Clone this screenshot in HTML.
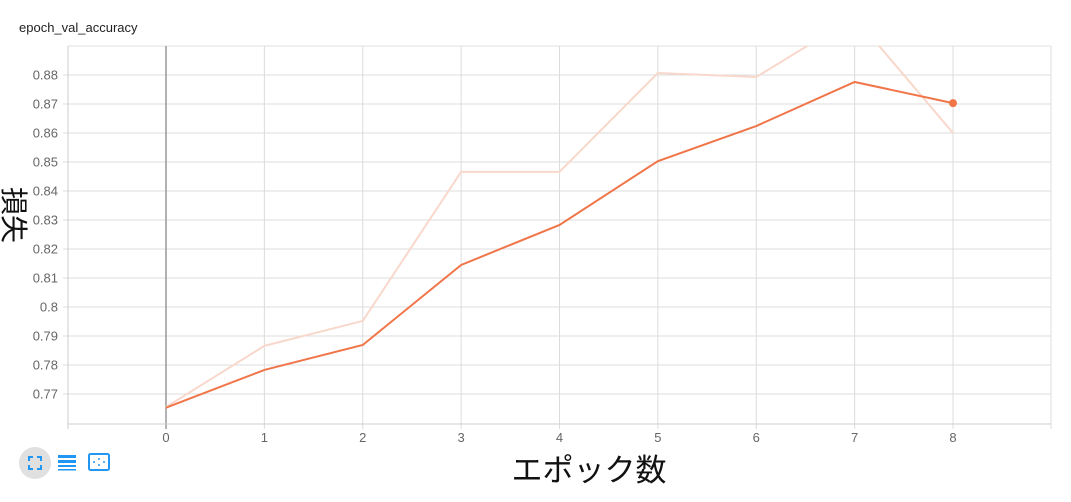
<!DOCTYPE html>
<html><head><meta charset="utf-8"><style>
body{margin:0;background:#fff;width:1071px;height:497px;overflow:hidden;font-family:"Liberation Sans","Noto Sans CJK JP",sans-serif}
</style></head><body>
<svg id="chart" width="1071" height="497" xmlns="http://www.w3.org/2000/svg" font-family="Liberation Sans, Noto Sans CJK JP, sans-serif">
<text x="19" y="32" font-size="13" fill="#222">epoch_val_accuracy</text>
<g id="grid"></g><g id="axes"></g>
<defs><clipPath id="clip"><rect x="68" y="46" width="983" height="378"/></clipPath></defs>
<g id="series" clip-path="url(#clip)"></g>
<text transform="translate(4,215) rotate(90)" font-size="28" text-anchor="middle" fill="#111">損失</text>
<text x="589" y="481" font-size="31" text-anchor="middle" fill="#111">エポック数</text>
<g><circle cx="35" cy="463" r="16" fill="#e0e0e0"/><path d="M29 461v-4h4M37 457h4v4M41 465v4h-4M33 469h-4v-4" stroke="#2196f3" stroke-width="2" fill="none"/></g>
<g fill="#2196f3"><rect x="58" y="455" width="18" height="3"/><rect x="58" y="460" width="18" height="3"/><rect x="58" y="465" width="18" height="2"/><rect x="58" y="469" width="18" height="1.5"/></g>
<g><rect x="89" y="454" width="20" height="16" rx="1.5" fill="none" stroke="#2196f3" stroke-width="2"/><path d="M99 458v2M99 464v2M93 462h2M103 462h2" stroke="#2196f3" stroke-width="1.5"/></g>
</svg>
<script>
const epochs=[0,1,2,3,4,5,6,7,8];
const smoothed=[0.7653,0.7783,0.7869,0.8145,0.8283,0.8503,0.8624,0.8776,0.8703];
const raw=[0.7655,0.7866,0.7952,0.8466,0.8466,0.8807,0.8793,0.9000,0.8600];
const yTicks=[0.77,0.78,0.79,0.8,0.81,0.82,0.83,0.84,0.85,0.86,0.87,0.88];
const xTicks=[0,1,2,3,4,5,6,7,8];
const NS="http://www.w3.org/2000/svg";
const X=v=>166+(v)*98.375, Y=v=>394-(v-0.77)*2900;
function mk(t,a,p){const e=document.createElementNS(NS,t);for(const k in a)e.setAttribute(k,a[k]);p.appendChild(e);return e;}
const g=document.getElementById('grid'),ax=document.getElementById('axes'),s=document.getElementById('series');
mk('line',{x1:68,y1:46,x2:1051,y2:46,stroke:'#e0e0e0'},g);
yTicks.forEach(t=>{const y=Y(t);
const l=mk('line',{x1:63,y1:y,x2:1051,y2:y,stroke:'#dcdcdc'},g);


const tx=mk('text',{x:58,y:y+4.5,'font-size':13,fill:'#666','text-anchor':'end'},ax);tx.textContent=String(t);

});
xTicks.forEach(t=>{const x=X(t);
const l=mk('line',{x1:x,y1:46,x2:x,y2:429,stroke:t===0?'#999':'#dcdcdc','stroke-width':t===0?1.5:1},g);


const tx=mk('text',{x:x,y:442,'font-size':13,fill:'#666','text-anchor':'middle'},ax);tx.textContent=String(t);

});
mk('line',{x1:1051,y1:46,x2:1051,y2:429,stroke:'#dcdcdc'},g);
mk('line',{x1:68,y1:46,x2:68,y2:424,stroke:'#ccc'},ax);
mk('line',{x1:68,y1:424,x2:1051,y2:424,stroke:'#ccc'},ax);
mk('line',{x1:68,y1:424,x2:68,y2:429,stroke:'#ccc'},ax);
const pr=mk('polyline',{points:epochs.map((e,i)=>X(e)+','+Y(raw[i])).join(' '),fill:'none',stroke:'#f9d8cc','stroke-width':2},s);


const ps=mk('polyline',{points:epochs.map((e,i)=>X(e)+','+Y(smoothed[i])).join(' '),fill:'none',stroke:'#f0764a','stroke-width':2},s);


const n=epochs.length-1;
const dot=mk('circle',{cx:X(epochs[n]),cy:Y(smoothed[n]),r:4,fill:'#f0764a'},document.getElementById('chart'));


</script>
</body></html>
